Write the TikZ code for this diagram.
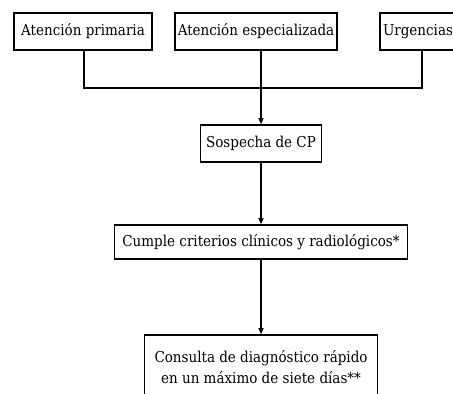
\documentclass[tikz,border=0pt]{standalone}
\usepackage{fontspec}
\setmainfont{DejaVu Serif Condensed}
\usetikzlibrary{positioning}
\usetikzlibrary{arrows.meta}

\begin{document}
\begin{tikzpicture}[x=1pt, y=1pt,
    box/.style={draw, line width=1.6pt, inner sep=0pt, minimum height=37pt, font=\fontsize{15}{21}\selectfont},
    link/.style={line width=1.2pt},
    flow/.style={link, -{Triangle[length=6pt, width=5pt]}}]
    \useasboundingbox (0,0) rectangle (453,394);
    \clip (0,0) rectangle (453,394);
    \node[box, minimum width=138pt] (prim) at (83,362.5) {Atención primaria};
    \node[box, minimum width=162pt] (espec) at (256,362.5) {Atención especializada};
    \node[box, minimum width=76pt] (urg) at (418,362.5) {Urgencias};
    \node[box, minimum width=121pt] (sosp) at (261,250.5) {Sospecha de CP};
    \node[box, minimum width=293pt, minimum height=34pt] (crit) at (261,152) {Cumple criterios clínicos y radiológicos*};
    \node[box, minimum width=233pt, minimum height=64pt, align=center] (cons) at (261,27) {Consulta de diagnóstico rápido\\en un máximo de siete días**};
    \coordinate (bus) at (261,306);
    \draw[link] ([xshift=1pt]prim.south) |- (bus) -| ([xshift=4pt]urg.south);
    \draw[link] (espec.south -| bus) -- (bus);
    \draw[flow] (bus) -- (sosp);
    \draw[flow] (sosp) -- (crit);
    \draw[flow] (crit) -- (cons);
\end{tikzpicture}
\end{document}
